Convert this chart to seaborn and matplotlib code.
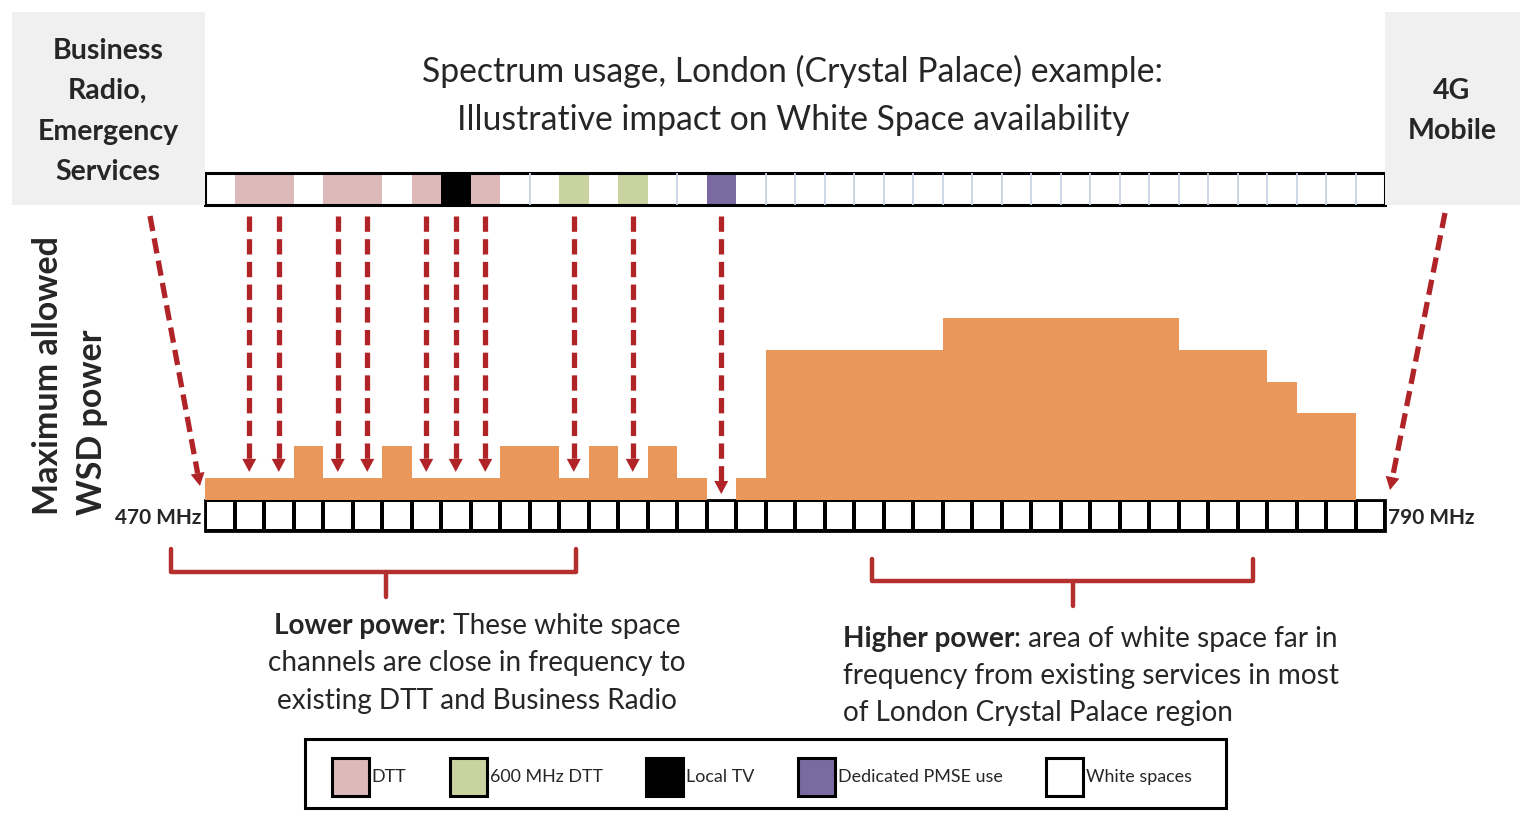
import numpy as np
import matplotlib
matplotlib.use("Agg")
import matplotlib.pyplot as plt
from matplotlib.colors import ListedColormap
from matplotlib.patches import Rectangle, Patch, Polygon
import seaborn as sns

# 40 UHF channels of 8 MHz, 470-790 MHz
# usage code: 0 white space, 1 DTT, 2 600 MHz DTT, 3 local TV, 4 dedicated PMSE
usage = [0, 1, 1, 0, 1, 1, 0, 1, 3, 1,
         0, 0, 2, 0, 2, 0, 0, 4, 0, 0,
         0, 0, 0, 0, 0, 0, 0, 0, 0, 0,
         0, 0, 0, 0, 0, 0, 0, 0, 0, 0]
usage_names = ["White spaces", "DTT", "600 MHz DTT", "Local TV", "Dedicated PMSE use"]
usage_colors = ["#FFFFFF", "#DDB9B9", "#C9D39F", "#000000", "#7B6AA2"]
legend_order = [1, 2, 3, 4, 0]

# maximum allowed WSD power per channel (arbitrary units)
power = [0.7, 0.7, 0.7, 1.7, 0.7, 0.7, 1.7, 0.7, 0.7, 0.7,
         1.7, 1.7, 0.7, 1.7, 0.7, 1.7, 0.7, 0.0, 0.7, 4.75,
         4.75, 4.75, 4.75, 4.75, 4.75, 5.75, 5.75, 5.75, 5.75, 5.75,
         5.75, 5.75, 5.75, 4.75, 4.75, 4.75, 3.75, 2.75, 2.75, 0.0]

freq_low, freq_high = "470 MHz", "790 MHz"
title_lines = ["Spectrum usage, London (Crystal Palace) example:",
               "Illustrative impact on White Space availability"]
left_box = ["Business", "Radio,", "Emergency", "Services"]
right_box = ["4G", "Mobile"]
ylabel_lines = ["Maximum allowed", "WSD power"]
lower_text = [("Lower power", ": These white space"),
              ("", "channels are close in frequency to"),
              ("", "existing DTT and Business Radio")]
higher_text = [("Higher power", ": area of white space far in"),
               ("", "frequency from existing services in most"),
               ("", "of London Crystal Palace region")]

sns.set_theme(style="white")
plt.rcParams["font.family"] = ["Lato", "DejaVu Sans"]

W, H = 1536, 831
X0, X1 = 205, 1385            # channel strips, pixels
CW = (X1 - X0) / len(usage)   # channel width
PWR_BASE = 500                # bottom of power bars
PX_PER_UNIT = 31.6
RED = "#B02326"
BRACE = "#B3302F"
ORANGE = "#E9975A"

fig = plt.figure(figsize=(W / 100, H / 100), dpi=100)


def frac(x, y, w, h):
    return [x / W, 1 - (y + h) / H, w / W, h / H]


# top strip: current spectrum use
ax_top = fig.add_axes(frac(X0, 173, X1 - X0, 32))
sns.heatmap(np.array([usage]), cmap=ListedColormap(usage_colors), vmin=-0.5,
            vmax=len(usage_colors) - 0.5, cbar=False, xticklabels=False,
            yticklabels=False, ax=ax_top)
for i in range(1, len(usage)):
    if usage[i - 1] == 0 and usage[i] == 0:
        ax_top.axvline(i, color="#C9D3E3", lw=1.3)
ax_top.add_patch(Rectangle((0, 0), len(usage), 1, fill=False, ec="black",
                           lw=2.2, clip_on=False))

# bottom strip: channel raster
ax_bot = fig.add_axes(frac(X0, 500, X1 - X0, 31))
sns.heatmap(np.zeros((1, len(usage))), cmap=ListedColormap(["white"]),
            linewidths=1.6, linecolor="black", cbar=False,
            xticklabels=False, yticklabels=False, ax=ax_bot)
ax_bot.add_patch(Rectangle((0, 0), len(usage), 1, fill=False, ec="black",
                           lw=2.0, clip_on=False))

# power bars
ax_pow = fig.add_axes(frac(X0, 300, X1 - X0, 200))
sns.barplot(x=np.arange(len(power)), y=power, color=ORANGE, saturation=1,
            width=1.0, linewidth=0, errorbar=None, ax=ax_pow)
ax_pow.set_xlim(-0.5, len(power) - 0.5)
ax_pow.set_ylim(0, 200 / PX_PER_UNIT)
ax_pow.axis("off")

# overlay in pixel coordinates
ax = fig.add_axes([0, 0, 1, 1])
ax.set_xlim(0, W)
ax.set_ylim(H, 0)
ax.axis("off")

ax.add_patch(Rectangle((12, 12), X0 - 12, 193, color="#F0F0F0", lw=0, zorder=0))
ax.add_patch(Rectangle((X1, 12), 1520 - X1, 193, color="#F0F0F0", lw=0, zorder=0))

for k, line in enumerate(left_box):
    ax.text(108, 51 + 40.3 * k, line, ha="center", va="center",
            fontsize=20.5, weight="bold")
for k, line in enumerate(right_box):
    ax.text(1452, 91 + 40.3 * k, line, ha="center", va="center",
            fontsize=20.5, weight="bold")
for k, line in enumerate(title_lines):
    ax.text(793, 71 + 48.5 * k, line, ha="center", va="center", fontsize=24.3)

ax.text(48, 515, ylabel_lines[0], rotation=90, ha="center", va="bottom",
        fontsize=24.5, weight="bold")
ax.text(92, 515, ylabel_lines[1], rotation=90, ha="center", va="bottom",
        fontsize=24.5, weight="bold")
ax.text(X0 - 4, 518, freq_low, ha="right", va="center", fontsize=15, weight="bold")
ax.text(X1 + 3, 518, freq_high, ha="left", va="center", fontsize=15, weight="bold")


def dashed_arrow(p0, p1, head=13, hw=7):
    p0, p1 = np.array(p0, float), np.array(p1, float)
    d = (p1 - p0) / np.linalg.norm(p1 - p0)
    n = np.array([-d[1], d[0]])
    base = p1 - d * head
    ax.plot([p0[0], base[0]], [p0[1], base[1]], color=RED, lw=3.8,
            dashes=(2.9, 1.4), solid_capstyle="butt", dash_capstyle="butt")
    ax.add_patch(Polygon([base + n * hw, base - n * hw, p1], closed=True,
                         color=RED, lw=0))


for i, u in enumerate(usage):
    if u != 0:
        x = X0 + CW * (i + 0.5)
        tip = PWR_BASE - power[i] * PX_PER_UNIT - 6
        dashed_arrow((x, 216), (x, tip))
dashed_arrow((150, 216), (200, 486))
dashed_arrow((1445, 213), (1390, 490))


def brace(xa, xb, xc, ytop, ymid, ytip):
    ax.plot([xa, xa, xb, xb], [ytop, ymid, ymid, ytop], color=BRACE, lw=3.2,
            solid_joinstyle="round", solid_capstyle="round")
    ax.plot([xc, xc], [ymid, ytip], color=BRACE, lw=3.2, solid_capstyle="round")


brace(171, 576, 386, 549, 572, 597)
brace(872, 1253, 1073, 559, 581, 606)

renderer = fig.canvas.get_renderer()


def rich_line(x, y, bold, rest, size, center):
    t1 = ax.text(x, y, bold, weight="bold", fontsize=size, ha="left", va="center")
    t2 = ax.text(x, y, rest, fontsize=size, ha="left", va="center")
    w1 = t1.get_window_extent(renderer).width if bold else 0
    w2 = t2.get_window_extent(renderer).width
    start = x - (w1 + w2) / 2 if center else x
    t1.set_x(start)
    t2.set_x(start + w1)


for k, (b, r) in enumerate(lower_text):
    rich_line(477, 626 + 37.5 * k, b, r, 20.2, True)
for k, (b, r) in enumerate(higher_text):
    rich_line(843, 639 + 37 * k, b, r, 20.2, False)

# legend: frame drawn separately so the box size follows the reference
ax.add_patch(Rectangle((305, 739), 921, 69, fill=False, ec="black", lw=2.2))
handles = [Patch(facecolor=usage_colors[j], edgecolor="black", lw=2.2)
           for j in legend_order]
labels = [usage_names[j] for j in legend_order]
fig.legend(handles, labels, loc="center", ncol=5,
           bbox_to_anchor=(762 / W, 1 - 777 / H),
           fontsize=12.9, frameon=False, handlelength=2.05, handleheight=2.9,
           handletextpad=0.15, columnspacing=2.45)

fig.savefig("out.png", dpi=100)
